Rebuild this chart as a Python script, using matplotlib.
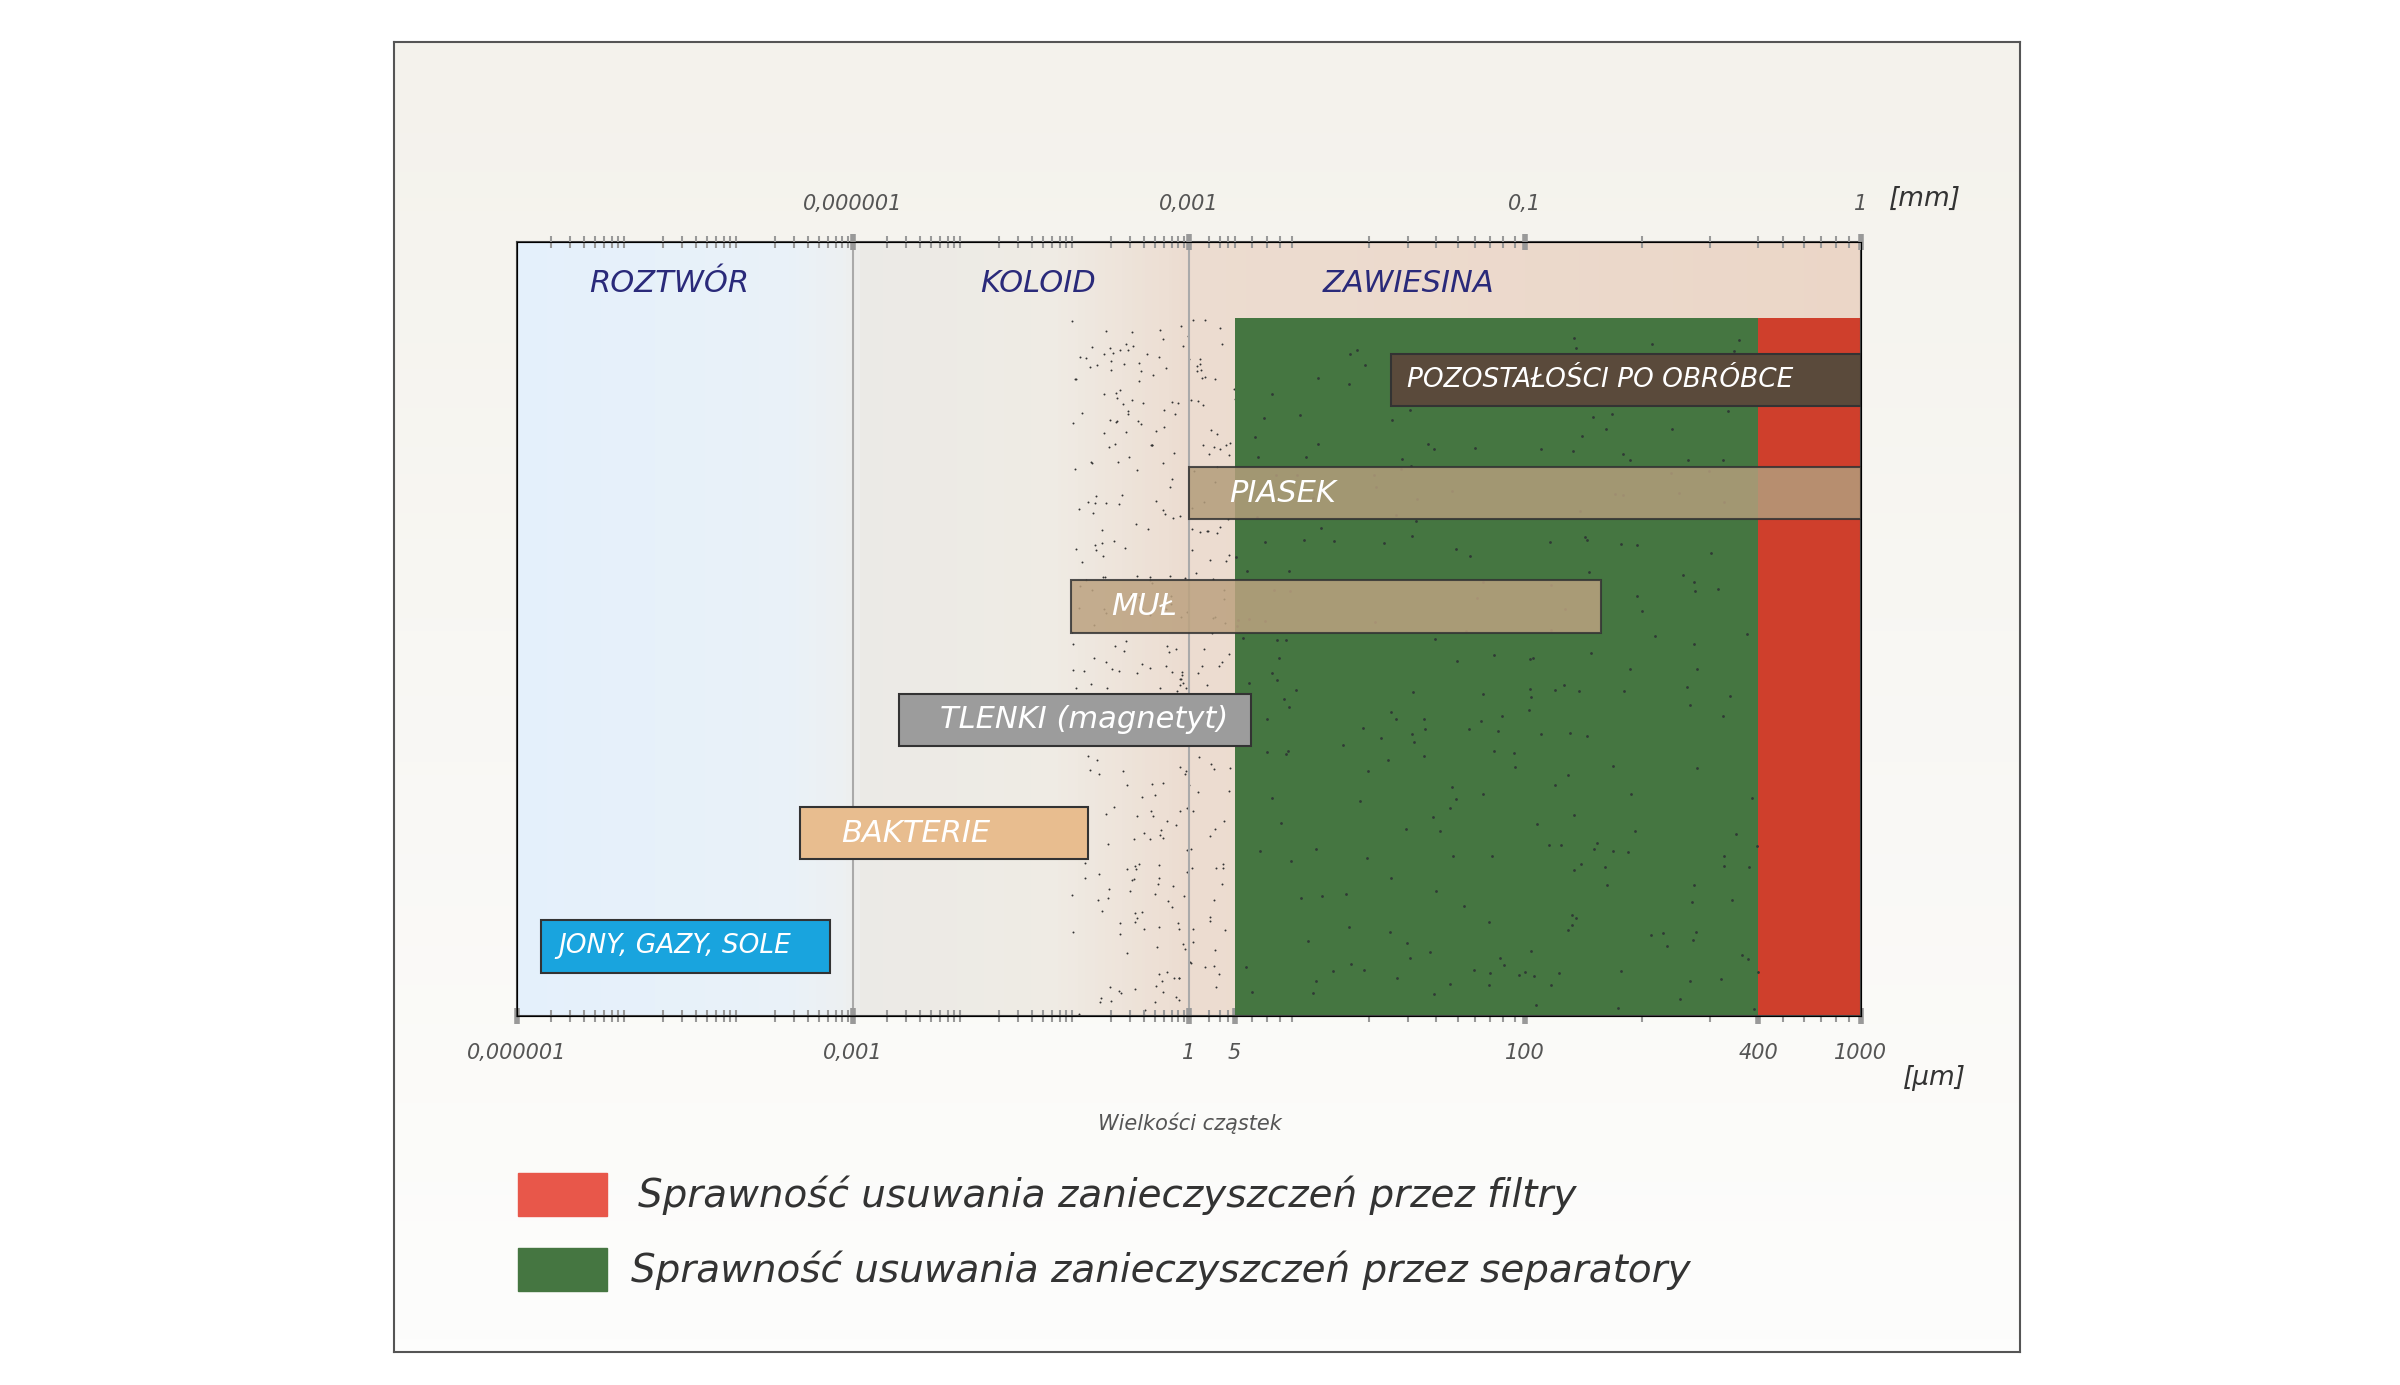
import numpy as np
import matplotlib
matplotlib.use("Agg")
import matplotlib.pyplot as plt
from matplotlib.colors import LinearSegmentedColormap
from matplotlib.patches import Rectangle

# ---- data ----
categories = ["POZOSTAŁOŚCI PO OBRÓBCE", "PIASEK", "MUŁ", "TLENKI (magnetyt)", "BAKTERIE", "JONY, GAZY, SOLE"]
bar_start_um = [25, 1, 0.089, 0.0026, 3.4e-4, 1.65e-6]
bar_end_um = [1000, 1000, 157, 5.9, 0.126, 6.2e-4]
bar_colors = ["#5a4a3b", "#b39d7b", "#bca280", "#9c9c9c", "#e8bd8f", "#19a4de"]
separator_range_um = [5, 400]
filter_range_um = [400, 1000]
bottom_ticks_um = [1e-6, 1e-3, 1, 5, 100, 400, 1000]
bottom_tick_labels = ["0,000001", "0,001", "1", "5", "100", "400", "1000"]
top_ticks_um = [1e-3, 1, 100, 1000]
top_tick_labels = ["0,000001", "0,001", "0,1", "1"]
regions = ["ROZTWÓR", "KOLOID", "ZAWIESINA"]
region_centers_um = [2.3e-5, 0.045, 30]

K_log = [-6, -3, 0, np.log10(5), 2, np.log10(400), 3]
K_pos = [0, 1, 2, 2.136, 3, 3.695, 4]
def fwd(x):
    x = np.clip(np.asarray(x, float), 1e-12, None)
    return np.interp(np.log10(x), K_log, K_pos)
def inv(p):
    return 10 ** np.interp(np.asarray(p, float), K_pos, K_log)

fig = plt.figure(figsize=(24, 13.85), dpi=100)
fig.patch.set_facecolor("white")
fr = fig.add_axes([0.164, 0.024, 0.6775, 0.946])
fr.set_xticks([]); fr.set_yticks([])
fr.imshow(np.linspace(0, 1, 100)[:, None], aspect="auto", extent=[0, 1, 0, 1],
          cmap=LinearSegmentedColormap.from_list("f", ["#f4f2ec", "#fdfdfc"]))
for s in fr.spines.values():
    s.set_color("#555"); s.set_linewidth(1.5)

ax = fig.add_axes([0.2154, 0.2667, 0.5600, 0.5589])
ax.set_xscale("function", functions=(fwd, inv))
ax.set_xlim(1e-6, 1000)
ax.set_ylim(503, 0)

pe = np.linspace(0, 4, 401)
pc = (pe[:-1] + pe[1:]) / 2
cmap = LinearSegmentedColormap.from_list("bg", [
    (0, "#e4f0fb"), (0.2, "#e9f1f8"), (0.245, "#edf0f1"), (0.255, "#ebeae6"),
    (0.4, "#efebe4"), (0.5, "#ecdcd0"), (1, "#ebd6c7")])
ax.pcolormesh(inv(pe), [0, 503], (pc / 4)[None, :], cmap=cmap, vmin=0, vmax=1,
              shading="flat", zorder=0)

rng = np.random.default_rng(3)
sp = rng.uniform(1.65, 2.136, 350); sy = rng.uniform(50, 503, 350)
ax.scatter(inv(sp), sy, s=2, color="#333", zorder=1, lw=0)

ax.add_patch(Rectangle((separator_range_um[0], 50), separator_range_um[1] - separator_range_um[0], 453,
                       color="#457641", zorder=2, lw=0))
ax.add_patch(Rectangle((filter_range_um[0], 50), filter_range_um[1] - filter_range_um[0], 453,
                       color="#cf3f2c", zorder=2, lw=0))
gp = rng.uniform(fwd(5), fwd(400), 260); gy = rng.uniform(55, 500, 260)
ax.scatter(inv(gp), gy, s=4, color="#2f3a35", zorder=3, lw=0)

for v in [1e-3, 1]:
    ax.axvline(v, color="#aaa", lw=1.5, zorder=1.5)

for i, (c, a, b, col) in enumerate(zip(categories, bar_start_um, bar_end_um, bar_colors)):
    yc = 90 + i * 73.6
    alpha = 0.85 if i in (1, 2) else 1
    ax.barh(yc, b - a, left=a, height=34, color=col, edgecolor="#333", lw=1.5, alpha=alpha, zorder=4)
    x0 = inv(fwd(a) + 0.12) if i not in (0, 5) else inv(fwd(a) + 0.05)
    fs = 19 if i in (0, 5) else 22
    ax.text(x0, yc, c, color="white", fontsize=fs, style="italic", va="center", ha="left", zorder=5)

for r, xc in zip(regions, region_centers_um):
    ax.text(xc, 27, r, color="#2a2a7a", fontsize=22, style="italic", ha="center", va="center", zorder=5)

for s in ax.spines.values():
    s.set_color("#444"); s.set_linewidth(1.5)
minor = [m * 10.0 ** d for d in range(-6, 3) for m in range(2, 10)]
ax.set_xticks(bottom_ticks_um, bottom_tick_labels)
ax.set_xticks(minor, minor=True)
ax.tick_params(axis="x", which="major", direction="inout", length=12, width=4, color="#999",
               labelsize=15, labelcolor="#555", pad=14)
ax.tick_params(axis="x", which="minor", direction="inout", length=8, width=1.5, color="#999")
for t in ax.get_xticklabels():
    t.set_style("italic")
ax.set_yticks([])

top = ax.twiny()
top.set_xscale("function", functions=(fwd, inv))
top.set_xlim(1e-6, 1000)
top.set_xticks(top_ticks_um, top_tick_labels)
top.set_xticks(minor, minor=True)
top.tick_params(axis="x", which="major", direction="inout", length=12, width=4, color="#999",
                labelsize=15, labelcolor="#555", pad=14)
top.tick_params(axis="x", which="minor", direction="inout", length=8, width=1.5, color="#999")
for t in top.get_xticklabels():
    t.set_style("italic")
top.set_yticks([])

fig.text(0.787, 0.856, "[mm]", fontsize=19, style="italic", color="#333", va="center")
fig.text(0.793, 0.222, "[µm]", fontsize=19, style="italic", color="#333", va="center")
fig.text(0.496, 0.189, "Wielkości cząstek", fontsize=15, style="italic", color="#555", ha="center", va="center")

fig.patches.append(Rectangle((0.216, 0.122), 0.037, 0.031, transform=fig.transFigure, color="#e8574a"))
fig.patches.append(Rectangle((0.216, 0.068), 0.037, 0.031, transform=fig.transFigure, color="#457641"))
fig.text(0.266, 0.137, "Sprawność usuwania zanieczyszczeń przez filtry", fontsize=28, style="italic",
         color="#333", va="center")
fig.text(0.263, 0.083, "Sprawność usuwania zanieczyszczeń przez separatory", fontsize=28, style="italic",
         color="#333", va="center")

fig.savefig("out.png", dpi=100)
